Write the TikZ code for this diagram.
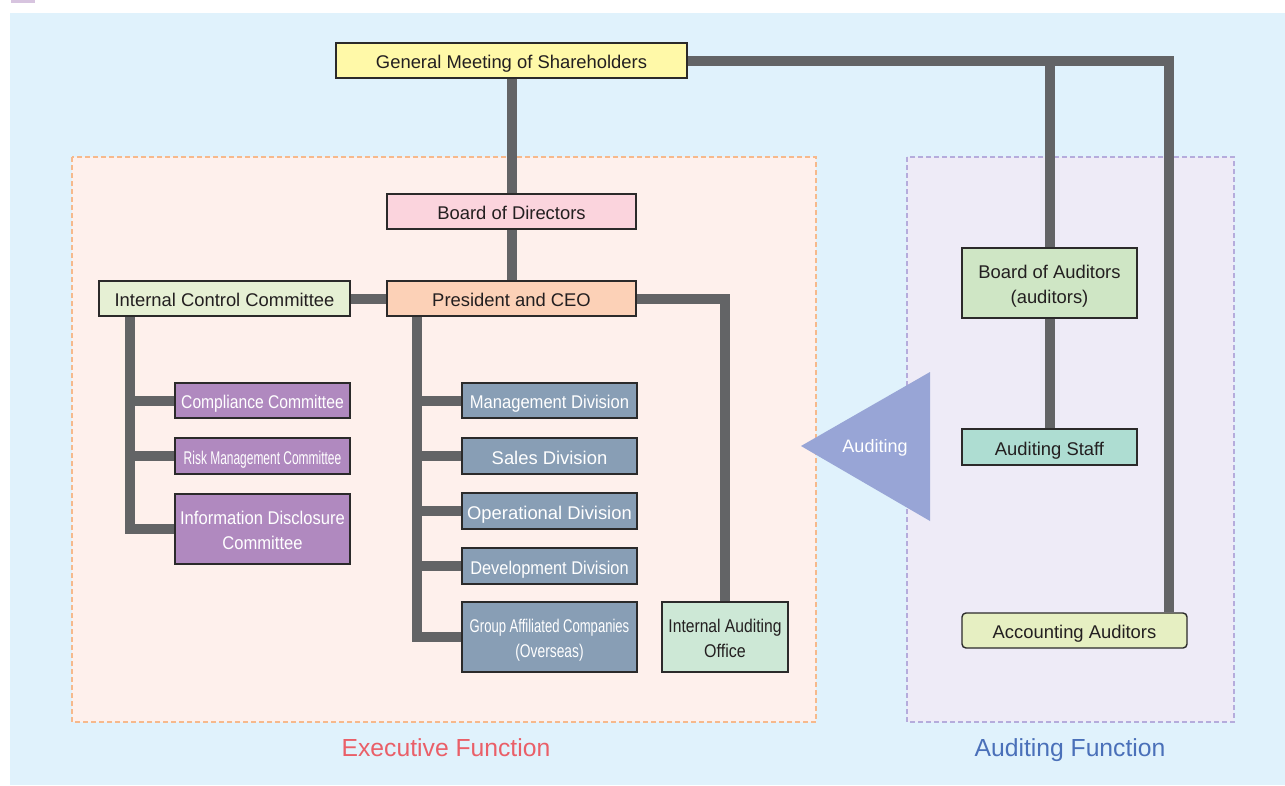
\documentclass[tikz,border=0pt]{standalone}
\usepackage{fontspec}
\setmainfont{Liberation Sans}
\usepackage{graphicx}
\definecolor{bgblue}{HTML}{E0F2FC}
\definecolor{execfill}{HTML}{FEF0EC}
\definecolor{execline}{HTML}{F6B98C}
\definecolor{audfill}{HTML}{EEEBF7}
\definecolor{audline}{HTML}{B5ACDC}
\definecolor{cyellow}{HTML}{FFF9A8}
\definecolor{cpink}{HTML}{FBD4DD}
\definecolor{cpeach}{HTML}{FCD1B7}
\definecolor{cicc}{HTML}{E6F0D4}
\definecolor{cpurple}{HTML}{B089BF}
\definecolor{cdiv}{HTML}{889EB5}
\definecolor{ciao}{HTML}{CDE8D6}
\definecolor{cboa}{HTML}{CFE6C5}
\definecolor{cstaff}{HTML}{AEDDD2}
\definecolor{cacc}{HTML}{E6EFC2}
\definecolor{ctri}{HTML}{98A5D6}
\definecolor{connc}{HTML}{636466}
\definecolor{boxline}{HTML}{2B2A2A}
\definecolor{txt}{HTML}{231F20}
\definecolor{exectxt}{HTML}{EA5F68}
\definecolor{audtxt}{HTML}{4A70B9}
\newcommand{\hsq}[2]{\scalebox{#1}[1]{#2}}
\newcommand{\tl}[1]{\raisebox{-3.3pt}[\height][\depth]{\begin{tabular}{@{}c@{}}#1\end{tabular}}}
\pgfdeclarelayer{bgzero}
\pgfdeclarelayer{bgone}
\pgfsetlayers{bgzero,bgone,main}
\begin{document}
\begin{tikzpicture}[x=1pt,y=-1pt,
  box/.style={draw=boxline, line width=1.4pt, inner sep=0pt,
    font=\fontsize{18.4}{25}\selectfont, text=txt},
  wbox/.style={box, text=white},
  conn/.style={draw=connc, line width=10pt, line join=miter},
  region/.style={line width=2pt, dash pattern=on 5pt off 3pt},
  flabel/.style={font=\fontsize{24.7}{28}\selectfont, inner sep=0pt, anchor=base}]
\useasboundingbox (0,0) rectangle (1285,785);

% nodes
\node[box, fill=cyellow, minimum width=351, minimum height=35] (gm) at (511.5,60.5) {\tl{General Meeting of Shareholders}};
\node[box, fill=cpink, minimum width=249, minimum height=35] (bod) at (511.5,211.5) {\tl{Board of Directors}};
\node[box, fill=cpeach, minimum width=249, minimum height=35] (pres) at (511.5,298.5) {\tl{President and CEO}};
\node[box, fill=cicc, minimum width=251, minimum height=35] (icc) at (224.5,298.5) {\tl{Internal Control Committee}};

\node[wbox, fill=cpurple, minimum width=175, minimum height=35] (comp) at (262.5,400.5) {\tl{\hsq{0.85}{Compliance Committee}}};
\node[wbox, fill=cpurple, minimum width=175, minimum height=36] (risk) at (262.5,456) {\tl{\hsq{0.65}{Risk Management Committee}}};
\node[wbox, fill=cpurple, minimum width=175, minimum height=70] (info) at (262.5,529) {\tl{\hsq{0.9}{Information Disclosure}\\\hsq{0.9}{Committee}}};

\node[wbox, fill=cdiv, minimum width=175, minimum height=35] (mgmt) at (549.5,400.5) {\tl{\hsq{0.9}{Management Division}}};
\node[wbox, fill=cdiv, minimum width=175, minimum height=36] (sales) at (549.5,456) {\tl{Sales Division}};
\node[wbox, fill=cdiv, minimum width=175, minimum height=36] (oper) at (549.5,511) {\tl{Operational Division}};
\node[wbox, fill=cdiv, minimum width=175, minimum height=36] (dev) at (549.5,566) {\tl{\hsq{0.89}{Development Division}}};
\node[wbox, fill=cdiv, minimum width=175, minimum height=70] (grp) at (549.5,637) {\tl{\hsq{0.71}{Group Affiliated Companies}\\\hsq{0.75}{(Overseas)}}};
\node[box, fill=ciao, minimum width=126, minimum height=70] (iao) at (725,637) {\tl{\hsq{0.85}{Internal Auditing}\\\hsq{0.87}{Office}}};

\node[box, fill=cboa, minimum width=175, minimum height=70] (boa) at (1049.5,283) {\tl{Board of Auditors\\(auditors)}};
\node[box, fill=cstaff, minimum width=175, minimum height=36] (staff) at (1049.5,447) {\tl{Auditing Staff}};
\node[box, fill=cacc, rounded corners=4pt, minimum width=225, minimum height=35] (acc) at (1074.5,630.5) {\tl{Accounting Auditors}};

% auditing arrow
\fill[ctri] (801,446) -- (930,372) -- (930,521) -- cycle;
\node[text=white, font=\fontsize{18}{25}\selectfont, inner sep=0pt] (audarrow) at (875,444) {\tl{Auditing}};

% function labels
\node[flabel, text=exectxt] (execlbl) at (446,756.7) {Executive Function};
\node[flabel, text=audtxt] (audlbl) at (1070,756.7) {Auditing Function};

% backgrounds
\begin{pgfonlayer}{bgzero}
  \fill[white] (0,0) rectangle (1285,785);
  \fill[cpurple!50] (11,0) rectangle (35,3);
  \fill[bgblue] (10,13) rectangle (1285,785);
  \filldraw[region, fill=execfill, draw=execline] (72,157) rectangle (816,722);
  \filldraw[region, fill=audfill, draw=audline] (907,157) rectangle (1234,722);
\end{pgfonlayer}

% connectors
\begin{pgfonlayer}{bgone}
  \coordinate (tr) at (1169,61);
  \coordinate (ix) at (130,0);
  \coordinate (px) at (417,0);
  \draw[conn] (gm.south) -- (bod.north);
  \draw[conn] (bod.south) -- (pres.north);
  \draw[conn] (gm.east) -- (gm.east -| tr) -- (acc.north -| tr);
  \draw[conn] (boa.north |- gm.east) -- (boa.north);
  \draw[conn] (boa.south) -- (staff.north);
  \draw[conn] (pres.west) -- (icc.east);
  \draw[conn] (pres.east) -- (pres.east -| iao.north) -- (iao.north);
  \draw[conn] (icc.south -| ix) -- (info.west -| ix) -- (info.west);
  \draw[conn] (comp.west -| ix) -- (comp.west);
  \draw[conn] (risk.west -| ix) -- (risk.west);
  \draw[conn] (pres.south -| px) -- (grp.west -| px) -- (grp.west);
  \draw[conn] (mgmt.west -| px) -- (mgmt.west);
  \draw[conn] (sales.west -| px) -- (sales.west);
  \draw[conn] (oper.west -| px) -- (oper.west);
  \draw[conn] (dev.west -| px) -- (dev.west);
\end{pgfonlayer}
\end{tikzpicture}
\end{document}
